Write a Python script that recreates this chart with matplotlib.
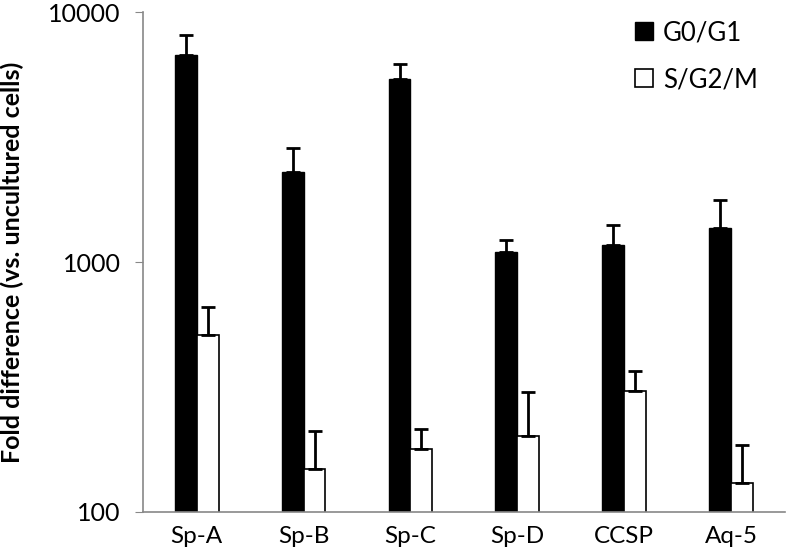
import matplotlib
matplotlib.use("Agg")
import matplotlib.pyplot as plt
import numpy as np

genes = ["Sp-A", "Sp-B", "Sp-C", "Sp-D", "CCSP", "Aq-5"]
g0g1 = [6720, 2290, 5400, 1100, 1170, 1370]
g0g1_err = [1360, 560, 830, 130, 240, 400]
sg2m = [510, 149, 178, 202, 305, 131]
sg2m_err = [154, 61, 36, 101, 62, 54]

plt.rcParams['font.family'] = ['Lato', 'DejaVu Sans']

fig = plt.figure(figsize=(7.91, 5.55), dpi=100)
ax = fig.add_axes([0.181, 0.0775, 0.811, 0.9005])

x = np.arange(len(genes))
w = 0.205
err_kw = dict(elinewidth=2, capthick=2, capsize=5, ecolor='black')
ax.bar(x - w / 2, g0g1, w, color='black', edgecolor='black', linewidth=1,
       yerr=[np.zeros(len(genes)), g0g1_err], error_kw=err_kw, label='G0/G1')
ax.bar(x + w / 2, sg2m, w, color='white', edgecolor='black', linewidth=1.2,
       yerr=[np.zeros(len(genes)), sg2m_err], error_kw=err_kw, label='S/G2/M')

ax.set_yscale('log')
ax.set_ylim(100, 10000)
ax.set_xlim(-0.5, 5.5)
ax.set_yticks([100, 1000, 10000])
ax.set_yticklabels(['100', '1000', '10000'])
ax.minorticks_off()
ax.set_xticks(x)
ax.set_xticklabels(genes)
ax.tick_params(axis='x', length=0, labelsize=17.5, pad=10)
ax.tick_params(axis='y', length=6, color='#888888', labelsize=18, pad=10)

for s in ['top', 'right']:
    ax.spines[s].set_visible(False)
for s in ['left', 'bottom']:
    ax.spines[s].set_color('#888888')
    ax.spines[s].set_linewidth(1.2)

ax.set_ylabel('Fold difference (vs. uncultured cells)', fontsize=18,
              fontweight='bold')
ax.yaxis.set_label_coords(-0.185, 0.5)

ax.legend(loc='upper left', bbox_to_anchor=(0.73, 1.03), frameon=False,
          fontsize=18.5, handlelength=0.7, handleheight=0.7, handletextpad=0.4,
          labelspacing=0.85)

fig.savefig('out.png', dpi=100)
